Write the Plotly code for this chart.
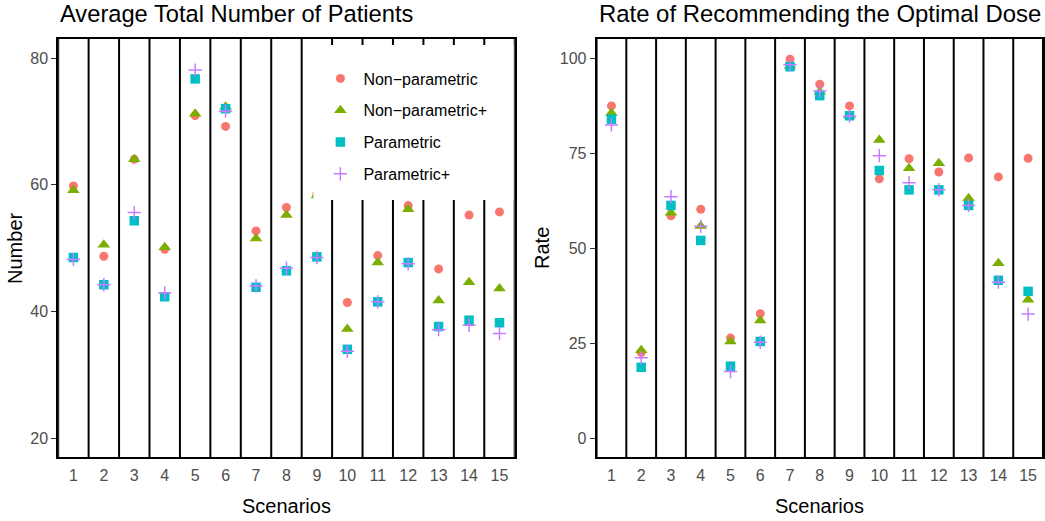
import plotly.graph_objects as go

W, H = 1045, 521

scenarios = list(range(1, 16))
tick_labels = [str(s) for s in scenarios]
series_names = ["Non\u2212parametric", "Non\u2212parametric+", "Parametric", "Parametric+"]

num_np = [59.8, 48.7, 64.0, 49.8, 70.9, 69.2, 52.7, 56.4, 58.5, 41.4, 48.8, 56.7, 46.7, 55.2, 55.7]
num_npp = [59.1, 50.5, 64.0, 50.1, 71.2, 72.3, 51.5, 55.2, 58.3, 37.2, 47.7, 56.1, 41.7, 44.6, 43.6]
num_p = [48.5, 44.2, 54.3, 42.3, 76.7, 72.0, 43.8, 46.4, 48.6, 34.0, 41.5, 47.7, 37.6, 38.6, 38.2]
num_pp = [48.2, 44.2, 55.6, 42.9, 78.1, 71.6, 44.0, 46.8, 48.5, 33.7, 41.5, 47.5, 37.1, 37.8, 36.5]

rate_np = [87.4, 22.5, 58.5, 60.2, 26.3, 32.7, 99.7, 93.1, 87.4, 68.2, 73.5, 70.0, 73.7, 68.7, 73.6]
rate_npp = [85.5, 23.1, 59.3, 55.8, 25.4, 30.9, 97.9, 91.1, 84.8, 78.4, 71.0, 72.3, 63.1, 46.0, 36.4]
rate_p = [83.9, 18.6, 61.2, 52.0, 18.9, 25.4, 97.7, 90.1, 84.8, 70.4, 65.3, 65.3, 61.2, 41.5, 38.6]
rate_pp = [82.4, 21.1, 63.5, 55.7, 17.5, 25.2, 98.2, 91.3, 84.7, 74.3, 67.2, 65.3, 61.2, 41.0, 32.6]

num_tickvals = [20, 40, 60, 80]
rate_tickvals = [0, 25, 50, 75, 100]

colors = ["#F8766D", "#7CAE00", "#00BFC4", "#C77CFF"]
symbols = ["circle", "triangle-up", "square", "cross-thin"]
sizes = [9, 11, 9.5, 9.5]

FONT = "Liberation Sans, Arial, sans-serif"

fig = go.Figure()

for panel, (data, xa, ya) in enumerate([
        ([num_np, num_npp, num_p, num_pp], "x", "y"),
        ([rate_np, rate_npp, rate_p, rate_pp], "x2", "y2")]):
    for i, vals in enumerate(data):
        marker = dict(color=colors[i], symbol=symbols[i], size=sizes[i])
        if symbols[i] == "cross-thin":
            marker["line"] = dict(color=colors[i], width=1.5)
        else:
            marker["line"] = dict(width=0)
        fig.add_trace(go.Scatter(
            x=scenarios, y=vals, mode="markers", name=series_names[i],
            marker=marker, xaxis=xa, yaxis=ya,
            showlegend=(panel == 0), legendgroup=series_names[i],
            cliponaxis=False,
        ))

# panel geometry in pixels
L1, R1 = 58.3, 515.7
L2, R2 = 597.7, 1045.0
TOP, BOT = 39.0, 457.0

def px(x):
    return x / W

def py(y):
    return 1 - y / H

axis_common = dict(showline=True, linecolor="black", linewidth=1.7, mirror=True,
                   showgrid=False, zeroline=False)
xcommon = dict(axis_common, tickvals=scenarios, ticktext=tick_labels, range=[0.5, 15.5],
               ticks="outside", ticklen=3, tickcolor="rgba(0,0,0,0)",
               tickfont=dict(family=FONT, size=16, color="#4D4D4D"))
ycommon = dict(axis_common, ticks="outside", ticklen=5, tickwidth=1.2, tickcolor="#333333",
               tickfont=dict(family=FONT, size=16, color="#4D4D4D"))

fig.update_layout(
    width=W, height=H,
    margin=dict(l=0, r=0, t=0, b=0),
    paper_bgcolor="white", plot_bgcolor="white",
    xaxis=dict(xcommon, domain=[px(L1), px(R1)], anchor="y"),
    yaxis=dict(ycommon, domain=[py(BOT), py(TOP)], anchor="x", range=[17, 83],
               tickvals=num_tickvals),
    xaxis2=dict(xcommon, domain=[px(L2), px(R2)], anchor="y2"),
    yaxis2=dict(ycommon, domain=[py(BOT), py(TOP)], anchor="x2", range=[-5, 105],
                tickvals=rate_tickvals),
    legend=dict(x=px(318), y=py(61.5), xanchor="left", yanchor="top",
                bgcolor="rgba(0,0,0,0)", borderwidth=0,
                font=dict(family=FONT, size=16, color="black"),
                itemwidth=36, tracegroupgap=8, traceorder="grouped"),
    showlegend=True,
)

# vertical separators between scenarios
seps = [s - 0.5 for s in scenarios] + [scenarios[-1] + 0.5]
shapes = []
for xr, yr in [("x", "y"), ("x2", "y2")]:
    for s in seps:
        shapes.append(dict(type="line", xref=xr, yref=f"{yr} domain", x0=s, x1=s, y0=0, y1=1,
                           line=dict(color="black", width=2), layer="below"))
# legend background box
shapes.append(dict(type="rect", xref="paper", yref="paper",
                   x0=px(314), x1=px(514.5), y0=py(200), y1=py(45),
                   fillcolor="white", line=dict(width=0), layer="above"))
fig.update_layout(shapes=shapes)

annotations = [
    dict(text="Average Total Number of Patients", x=px(L1), y=py(13.5), xref="paper", yref="paper",
         xanchor="left", yanchor="middle", showarrow=False,
         font=dict(family=FONT, size=23.7, color="black")),
    dict(text="Rate of Recommending the Optimal Dose", x=px(L2), y=py(13.5), xref="paper", yref="paper",
         xanchor="left", yanchor="middle", showarrow=False,
         font=dict(family=FONT, size=23.9, color="black")),
    dict(text="Scenarios", x=px((L1 + R1) / 2), y=py(506), xref="paper", yref="paper",
         xanchor="center", yanchor="middle", showarrow=False,
         font=dict(family=FONT, size=20, color="black")),
    dict(text="Scenarios", x=px((L2 + R2) / 2), y=py(506), xref="paper", yref="paper",
         xanchor="center", yanchor="middle", showarrow=False,
         font=dict(family=FONT, size=20, color="black")),
    dict(text="Number", x=px(15), y=py((TOP + BOT) / 2), xref="paper", yref="paper",
         xanchor="center", yanchor="middle", showarrow=False, textangle=-90,
         font=dict(family=FONT, size=20, color="black")),
    dict(text="Rate", x=px(543), y=py((TOP + BOT) / 2), xref="paper", yref="paper",
         xanchor="center", yanchor="middle", showarrow=False, textangle=-90,
         font=dict(family=FONT, size=20, color="black")),
]
fig.update_layout(annotations=annotations)

fig.write_html("out.html", config={"displayModeBar": False},
               post_script="document.body.style.margin='0';")
